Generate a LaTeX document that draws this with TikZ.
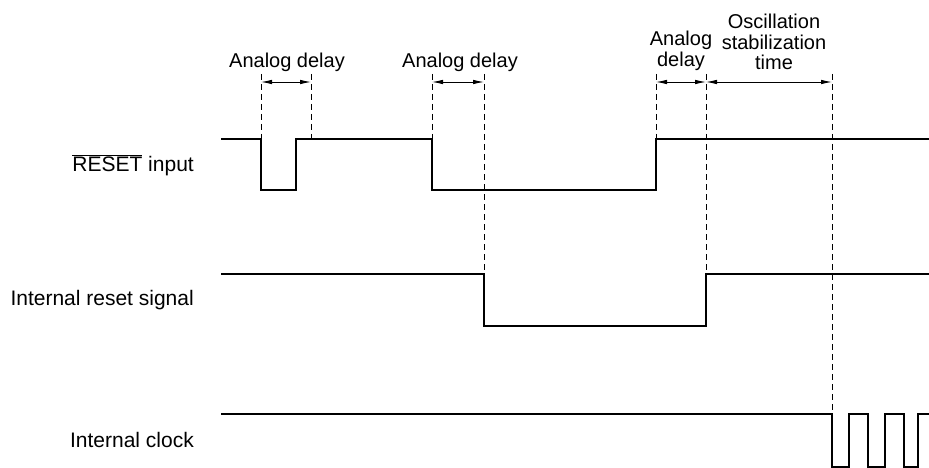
\documentclass[tikz,border=0pt]{standalone}
\usepackage{fontspec}
\setmainfont{Liberation Sans}
\usetikzlibrary{arrows.meta}

\begin{document}
\begin{tikzpicture}[x=1pt,y=-1pt]
\tikzset{
  sigline/.style={draw=black,line width=2.8pt,line join=miter},
  guideline/.style={draw=black,line width=1pt,dash pattern=on 6pt off 4pt},
  delayarrow/.style={draw=black,line width=0.9pt,{Latex[length=11pt,width=4.5pt]}-{Latex[length=11pt,width=4.5pt]}},
  siglabel/.style={anchor=east,inner sep=0pt,font=\fontsize{21}{20.5}\selectfont},
  delaylabel/.style={align=center,inner sep=0pt,font=\fontsize{20}{20.5}\selectfont}
}
\useasboundingbox (0,0) rectangle (929,468);
% signal names
\node[siglabel] (n_reset) at (194,165) {$\overline{\mbox{RESET}}$ input};
\node[siglabel] (n_intreset) at (194,300) {Internal reset signal};
\node[siglabel] (n_clock) at (194,440) {Internal clock};
% waveforms
\draw[sigline] (221,139) -- (261,139) -- (261,190) -- (296,190) -- (296,139)
  -- (432,139) -- (432,190) -- (656,190) -- (656,139) -- (929,139);
\draw[sigline] (221,274) -- (484,274) -- (484,326) -- (706,326) -- (706,274) -- (929,274);
\draw[sigline] (221,414) -- (832,414) -- (832,467) -- (849,467) -- (849,414) -- (868,414)
  -- (868,467) -- (885,467) -- (885,414) -- (904,414) -- (904,467) -- (918,467)
  -- (918,414) -- (929,414);
% guide coordinates
\coordinate (t_a1) at (261,74);
\coordinate (t_a2) at (311,74);
\coordinate (t_b1) at (432,74);
\coordinate (t_b2) at (484,74);
\coordinate (t_c1) at (656,74);
\coordinate (t_c2) at (706,74);
\coordinate (t_d2) at (832,74);
\coordinate (b_a1) at (261,139);
\coordinate (b_a2) at (311,139);
\coordinate (b_b1) at (432,139);
\coordinate (b_b2) at (484,274);
\coordinate (b_c1) at (656,139);
\coordinate (b_c2) at (706,274);
\coordinate (b_d2) at (832,414);
\draw[guideline] (t_a1) -- (b_a1);
\draw[guideline] (t_a2) -- (b_a2);
\draw[guideline] (t_b1) -- (b_b1);
\draw[guideline] (t_b2) -- (b_b2);
\draw[guideline] (t_c1) -- (b_c1);
\draw[guideline] (t_c2) -- (b_c2);
\draw[guideline] (t_d2) -- (b_d2);
% delay spans
\coordinate (s_a1) at (261,82);
\coordinate (s_a2) at (311,82);
\coordinate (s_b1) at (432,82);
\coordinate (s_b2) at (484,82);
\coordinate (s_c1) at (656,82);
\coordinate (s_c2) at (706,82);
\coordinate (s_d2) at (832,82);
\draw[delayarrow] (s_a1) -- (s_a2);
\draw[delayarrow] (s_b1) -- (s_b2);
\draw[delayarrow] (s_c1) -- (s_c2);
\draw[delayarrow] (s_c2) -- (s_d2);
\node[delaylabel] (n_delay1) at (287,62) {Analog delay};
\node[delaylabel] (n_delay2) at (460,62) {Analog delay};
\node[delaylabel] (n_delay3) at (681,51) {Analog\\delay};
\node[delaylabel] (n_osc) at (774,42) {Oscillation\\stabilization\\time};
\end{tikzpicture}
\end{document}
